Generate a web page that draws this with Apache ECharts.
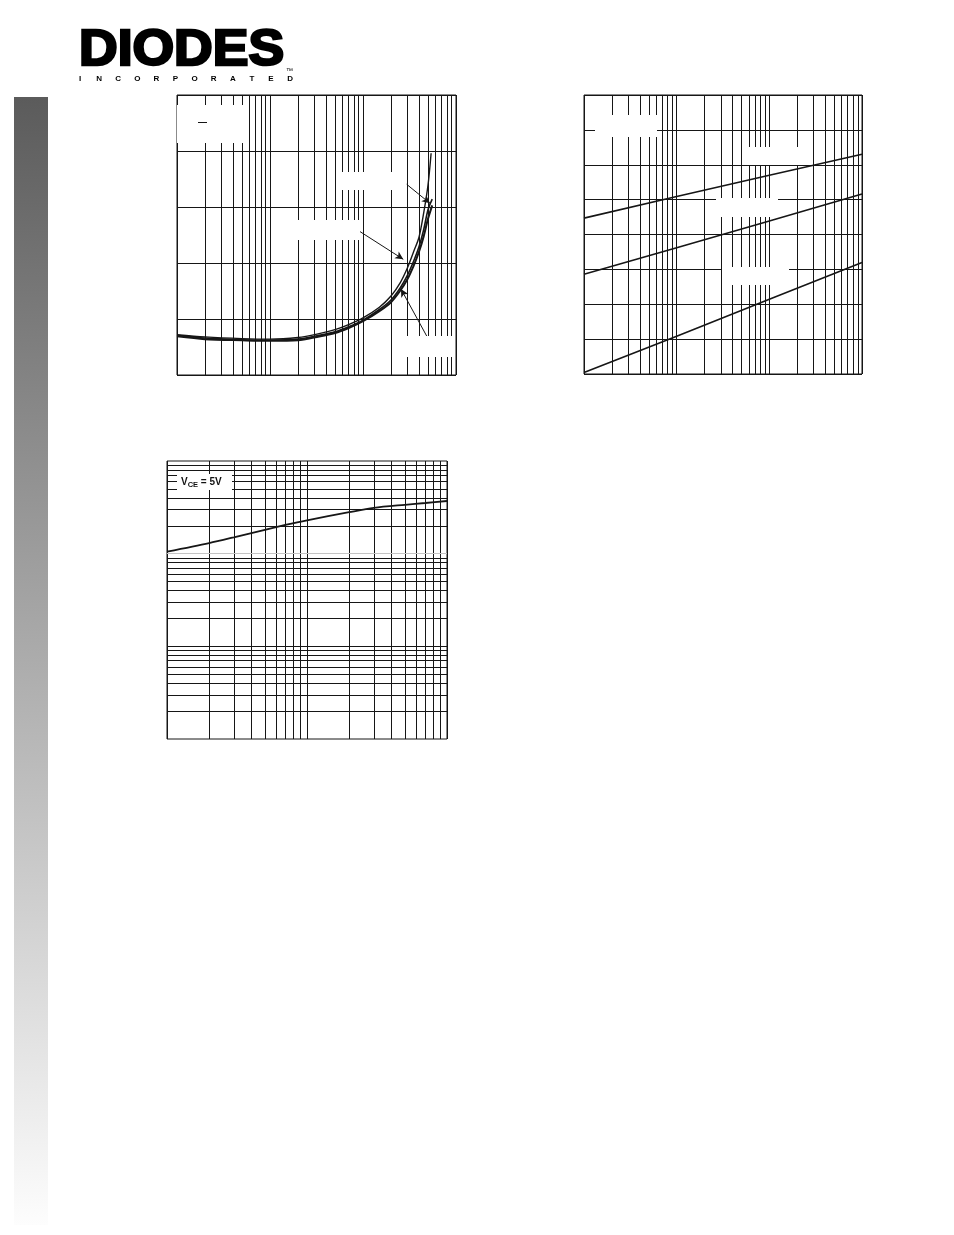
<!DOCTYPE html>
<html><head><meta charset="utf-8">
<script src="https://cdn.jsdelivr.net/npm/echarts@6/dist/echarts.min.js"></script>
<style>html,body{margin:0;padding:0;background:#fff}#c{width:954px;height:1235px}</style>
</head><body><div id="c"></div><script>
// ---------- Chart 1 (top left): log x, linear y ----------
const c1CurveA = [[1,0.072],[2,0.068],[5,0.065],[10,0.064],[20,0.067],[32,0.073],[50,0.081],[70,0.090],[100,0.102],[150,0.121],[200,0.141],[250,0.164],[300,0.191],[350,0.220],[400,0.246],[450,0.290],[500,0.339],[540,0.396]];
const c1CurveB = [[1,0.071],[2,0.066],[5,0.063],[10,0.062],[20,0.064],[32,0.070],[50,0.077],[70,0.086],[100,0.098],[150,0.117],[200,0.134],[250,0.155],[300,0.178],[350,0.203],[400,0.229],[450,0.260],[500,0.295],[555,0.314]];
const c1CurveC = [[1,0.069],[2,0.064],[5,0.062],[10,0.061],[20,0.062],[32,0.068],[50,0.075],[70,0.084],[100,0.096],[150,0.114],[200,0.130],[250,0.150],[300,0.171],[350,0.195],[400,0.220],[450,0.248],[500,0.279],[555,0.303]];
const c1XGrid = [2,3,4,5,6,7,8,9,20,30,40,50,60,70,80,90,200,300,400,500,600,700,800,900];
const c1Arrows = [[[295,0.3405],[525,0.3066]],[[93,0.256],[271,0.2066]],[[484,0.0696],[256,0.1536]]];

// ---------- Chart 2 (top right): log x, linear y ----------
const c2Line1 = [[1,4.47],[10,5.09],[100,5.70],[1000,6.30]];
const c2Line2 = [[1,2.86],[10,3.62],[100,4.39],[1000,5.16]];
const c2Line3 = [[1,0.04],[10,1.08],[100,2.14],[1000,3.20]];
const c2XGrid = [2,3,4,5,6,7,8,9,20,30,40,50,60,70,80,90,200,300,400,500,600,700,800,900];

// ---------- Chart 3 (bottom): log x, log y ----------
const c3Curve = [[1,105],[2,130],[3,150],[5,181],[7,204],[10,229],[20,280],[30,312],[50,337],[70,352],[100,370]];
const c3XGrid = [2,3,4,5,6,7,8,9,20,30,40,50,60,70,80,90];
const c3YGrid = [2,3,4,5,6,7,8,9,10,20,30,40,50,60,70,80,90,200,300,400,500,600,700,800,900];
const c3YGray = [100];
const c3Label = 'CE';

const INK = '#161616';
const gridStyle = {color: INK, width: 1, type: 'solid'};

function hiddenAxis(extra) {
  return Object.assign({
    axisLine: {show: false}, axisTick: {show: false}, axisLabel: {show: false},
    splitLine: {show: true, lineStyle: gridStyle}
  }, extra);
}
function gridMark(xs, ys, grayYs) {
  const d = [];
  (xs || []).forEach(v => d.push({xAxis: v}));
  (ys || []).forEach(v => d.push({yAxis: v}));
  (grayYs || []).forEach(v => d.push({yAxis: v, lineStyle: {color: '#c4c4c4', width: 1.2, type: 'solid'}}));
  return {silent: true, symbol: 'none', label: {show: false}, lineStyle: gridStyle, data: d, animation: false};
}
function arrowMark(list) {
  return {silent: true, symbol: ['none', 'arrow'], symbolSize: [6, 8], label: {show: false},
    lineStyle: {color: INK, width: 1, type: 'solid'},
    data: list.map(a => [{coord: a[0]}, {coord: a[1]}]), animation: false};
}
function curve(data, xi, yi, w, smooth, extra) {
  return Object.assign({type: 'line', xAxisIndex: xi, yAxisIndex: yi, data: data, symbol: 'none',
    smooth: smooth, lineStyle: {color: INK, width: w}, animation: false, z: 5}, extra || {});
}

// Logo letters
const logoSub = 'INCORPORATED'.split('');
const graphics = [];
// sidebar gradient
graphics.push({type: 'rect', shape: {x: 14, y: 97, width: 34, height: 1128}, z: 1,
  style: {fill: new echarts.graphic.LinearGradient(0, 0, 0, 1, [{offset: 0, color: '#5b5b5b'}, {offset: 1, color: '#fdfdfd'}])}});
graphics.push({type: 'text', x: 79, y: 51, z: 10, scaleX: 1.07,
  style: {text: 'DIODES', font: 'bold 50px "Liberation Sans", Arial, sans-serif', fill: '#000', stroke: '#000', lineWidth: 2.5, verticalAlign: 'middle', align: 'left'}});
logoSub.forEach((ch, i) => graphics.push({type: 'text', x: 80 + i * 19.1, y: 79, z: 10,
  style: {text: ch, font: 'bold 8px "Liberation Sans", Arial, sans-serif', fill: '#000', align: 'center', verticalAlign: 'middle'}}));
graphics.push({type: 'text', x: 286, y: 71, z: 10, style: {text: '™', font: '7px "Liberation Sans", Arial, sans-serif', fill: '#000', verticalAlign: 'middle'}});
// white label boxes (chart 1)
[[177,105,66,38],[340,172,53,18],[298,220,62,20],[393,336,62,21],
 // chart 2
 [595,115,62,22],[748,147,51,18],[716,198,62,19],[722,267,67,18],
 // chart 3
 [177,474,55,16]].forEach(b => graphics.push({type: 'rect', shape: {x: b[0], y: b[1], width: b[2], height: b[3]}, z: 50, style: {fill: '#fff'}}));
graphics.push({type: 'line', shape: {x1: 198, y1: 122.5, x2: 207, y2: 122.5}, z: 51, style: {stroke: INK, lineWidth: 1}});
graphics.push({type: 'text', x: 181, y: 482, z: 52, style: {
  text: '{a|V}{b|' + c3Label + '}{a| = 5V}',
  rich: {a: {fontSize: 10, fontWeight: 'bold', fontFamily: '"Liberation Sans", Arial, sans-serif', fill: '#111', lineHeight: 14, verticalAlign: 'middle'},
         b: {fontSize: 7.5, fontWeight: 'bold', fontFamily: '"Liberation Sans", Arial, sans-serif', fill: '#111', lineHeight: 14, verticalAlign: 'bottom'}},
  verticalAlign: 'middle', align: 'left'}});

const option = {
  backgroundColor: '#fff',
  animation: false,
  grid: [
    {left: 177, top: 95, width: 279, height: 280, show: true, borderColor: INK, borderWidth: 1, containLabel: false},
    {left: 584, top: 95, width: 278, height: 279, show: true, borderColor: INK, borderWidth: 1, containLabel: false},
    {left: 167, top: 461, width: 280, height: 278, show: true, borderColor: INK, borderWidth: 1, containLabel: false}
  ],
  xAxis: [
    hiddenAxis({type: 'log', gridIndex: 0, min: 1, max: 1000, logBase: 10}),
    hiddenAxis({type: 'log', gridIndex: 1, min: 1, max: 1000, logBase: 10}),
    hiddenAxis({type: 'log', gridIndex: 2, min: 1, max: 100, logBase: 10})
  ],
  yAxis: [
    hiddenAxis({type: 'value', gridIndex: 0, min: 0, max: 0.5, interval: 0.1}),
    hiddenAxis({type: 'value', gridIndex: 1, min: 0, max: 8, interval: 1}),
    hiddenAxis({type: 'log', gridIndex: 2, min: 1, max: 1000, logBase: 10, splitLine: {show: false}})
  ],
  series: [
    curve(c1CurveA, 0, 0, 1.4, 0.3, {markLine: gridMark(c1XGrid, [], []), z: 6}),
    curve(c1CurveB, 0, 0, 1.6, 0.3, {markLine: arrowMark(c1Arrows), z: 6}),
    curve(c1CurveC, 0, 0, 2.0, 0.3, {z: 6}),
    curve(c2Line1, 1, 1, 1.6, false, {markLine: gridMark(c2XGrid, [], []), z: 6}),
    curve(c2Line2, 1, 1, 1.6, false, {z: 6}),
    curve(c2Line3, 1, 1, 1.6, false, {z: 6}),
    curve(c3Curve, 2, 2, 1.8, 0.3, {markLine: gridMark(c3XGrid, c3YGrid, c3YGray), z: 6})
  ],
  graphic: graphics
};
const chart = echarts.init(document.getElementById('c'), null, {renderer: 'canvas', width: 954, height: 1235});
chart.setOption(option);
</script></body></html>
